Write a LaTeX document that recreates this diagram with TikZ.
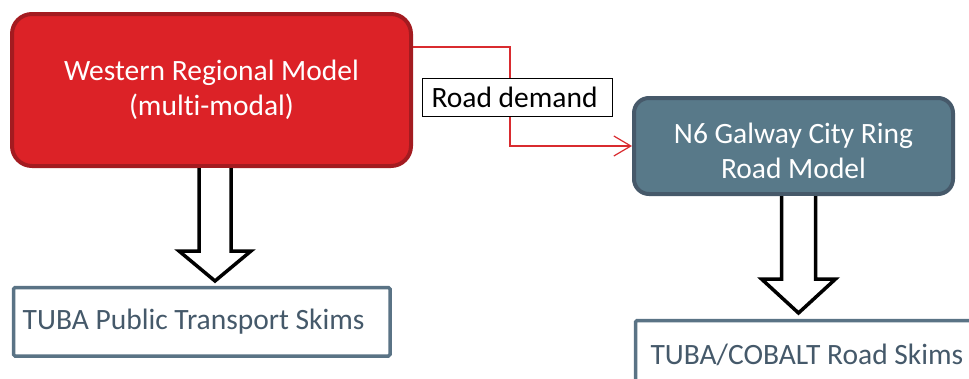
\documentclass[tikz,border=0pt]{standalone}
\usepackage{fontspec}
\setmainfont[Ligatures=NoCommon]{Carlito}
\usetikzlibrary{arrows.meta,calc}
\definecolor{redfill}{HTML}{DC2227}
\definecolor{redline}{HTML}{A31B20}
\definecolor{bluefill}{HTML}{587989}
\definecolor{blueline}{HTML}{46596A}
\definecolor{outline}{HTML}{5A7385}
\definecolor{outtext}{HTML}{45596A}
\definecolor{connred}{HTML}{D92B2F}
\begin{document}
\begin{tikzpicture}[x=1pt,y=-1pt,
  every node/.style={font=\fontsize{29.5}{35}\selectfont},
  redbox/.style={draw=redline, fill=redfill, line width=4pt, rounded corners=20pt,
    text=white, align=center, minimum width=399pt, minimum height=152pt},
  bluebox/.style={draw=blueline, fill=bluefill, line width=4pt, rounded corners=15pt,
    minimum width=319pt, minimum height=96pt},
  whitetext/.style={text=white, align=center},
  outbox/.style={draw=outline, fill=white, line width=3.5pt, rounded corners=1.5pt,
    text=outtext, align=flush left, anchor=north west, inner xsep=9pt},
  lblbox/.style={draw=black, fill=white, line width=1pt, text=black, align=flush left,
    inner xsep=9pt, text width=172pt, minimum height=38pt},
  conn/.style={draw=connred, line width=1.2pt, -{Straight Barb[length=17pt,width=20pt,line width=1.2pt]}},
  hollow/.style={draw=black, fill=white, line width=3.5pt, line join=miter}
]
\useasboundingbox (0,0) rectangle (969,378);
\clip (0,0) rectangle (969,378);

% main boxes
\node[redbox] (wrm) at (211.5,90) {Western Regional Model\\(mult\kern0pt i-modal)};
\node[bluebox] (n6) at (793.5,146) {};
\node[whitetext] (n6t) at ($(n6.center)+(0,5)$) {N6 Galway City Ring\\Road Model};

% output boxes
\node[outbox, minimum width=376.5pt, minimum height=68.5pt, text width=358pt] (pt) at (11.75,285.75) {TUBA Public Transport Skims};
\node[outbox, inner xsep=15pt, minimum width=380pt, minimum height=68.5pt, text width=350pt] (rs) at (633.75,318.75) {TUBA/COBALT Road Skims};

% road demand connector
\draw[conn] ([yshift=-35pt]wrm.north east) -- ++(97,0) |- (n6.west);
\node[lblbox] (rd) at (517.5,97) {Road demand};

% hollow arrows
\coordinate (a1s) at (215,168);
\coordinate (a1t) at (215,281);
\draw[hollow] ($(a1s)+(-16,0)$) -- ($(a1t)+(-16,-30)$) -- ($(a1t)+(-36,-30)$) -- (a1t)
  -- ($(a1t)+(36,-30)$) -- ($(a1t)+(16,-30)$) -- ($(a1s)+(16,0)$);
\coordinate (a2s) at (798.5,196);
\coordinate (a2t) at (798.5,313);
\draw[hollow] ($(a2s)+(-17,0)$) -- ($(a2t)+(-17,-34)$) -- ($(a2t)+(-37,-34)$) -- (a2t)
  -- ($(a2t)+(37,-34)$) -- ($(a2t)+(17,-34)$) -- ($(a2s)+(17,0)$);
% redraw box edges over arrow ends
\draw[redline, line width=4pt] ($(a1s)+(-25,-2)$) -- ($(a1s)+(25,-2)$);
\draw[blueline, line width=4pt] ($(a2s)+(-25,-2)$) -- ($(a2s)+(25,-2)$);
\end{tikzpicture}
\end{document}
